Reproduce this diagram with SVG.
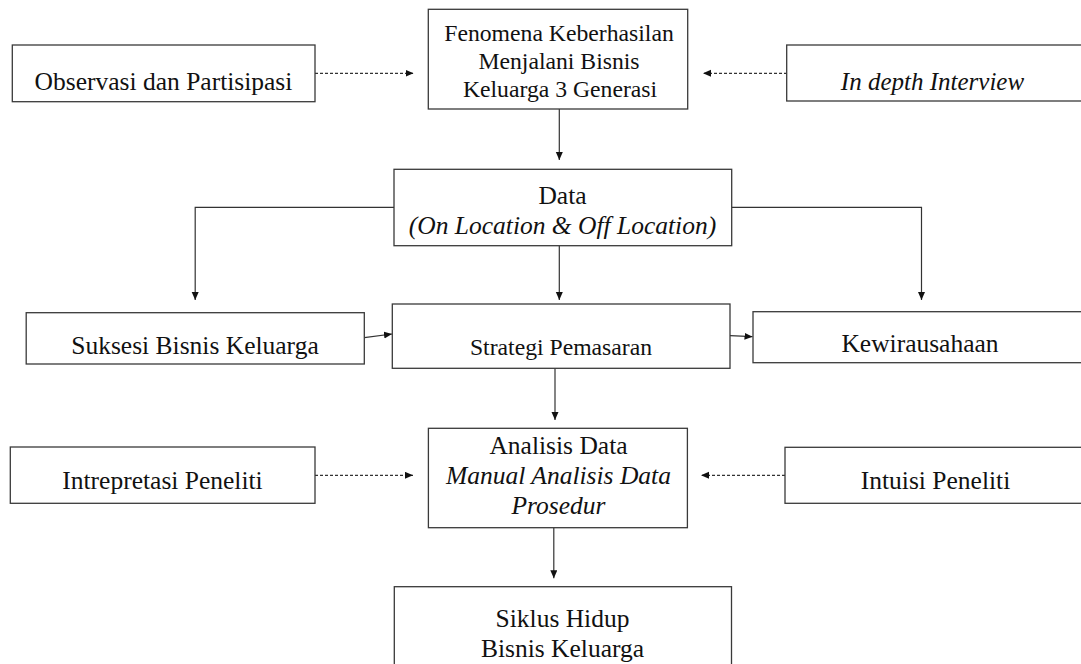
<svg xmlns="http://www.w3.org/2000/svg" width="1081" height="664" viewBox="0 0 1081 664">
<style>
.box{fill:#fff;stroke:#3a3a3a;stroke-width:1.3}
.t{font-family:"Liberation Serif","Times New Roman",serif;font-size:25.5px;fill:#111;text-anchor:middle}
.s{font-size:23.7px}
.i{font-style:italic}
.ln{fill:none;stroke:#333;stroke-width:1.2}
.dash{stroke-dasharray:3 2}
</style>
<defs>
<marker id="ah" markerUnits="userSpaceOnUse" markerWidth="9" markerHeight="8" refX="8" refY="3.5" orient="auto">
<path d="M0,0 L8,3.5 L0,7 z" fill="#111"/>
</marker>
</defs>
<rect width="1081" height="664" fill="#fff"/>
<g id="connectors">
<path class="ln dash" d="M315,73.3 H413.5" marker-end="url(#ah)"/>
<path class="ln dash" d="M787,73.3 H703" marker-end="url(#ah)"/>
<path class="ln" d="M559.3,109 V160" marker-end="url(#ah)"/>
<path class="ln" d="M394,207.3 H195.2 V300" marker-end="url(#ah)"/>
<path class="ln" d="M731.7,207.3 H921.5 V300" marker-end="url(#ah)"/>
<path class="ln" d="M559.3,246 V300" marker-end="url(#ah)"/>
<path class="ln" d="M364.3,337.7 L392,334" marker-end="url(#ah)"/>
<path class="ln" d="M730,335.7 L752.5,336.7" marker-end="url(#ah)"/>
<path class="ln" d="M555,368.3 V420" marker-end="url(#ah)"/>
<path class="ln dash" d="M315,475.3 H413" marker-end="url(#ah)"/>
<path class="ln dash" d="M785,475.3 H701" marker-end="url(#ah)"/>
<path class="ln" d="M553.8,527.7 V578.3" marker-end="url(#ah)"/>
</g>
<g id="observasi">
<rect class="box" x="12.3" y="45" width="302.7" height="56.7"/>
<text class="t" x="163.5" y="90">Observasi dan Partisipasi</text>
</g>
<g id="fenomena">
<rect class="box" x="428.3" y="9.3" width="259.4" height="99.7"/>
<text class="t s" x="559" y="41">Fenomena Keberhasilan</text>
<text class="t s" x="559" y="69">Menjalani Bisnis</text>
<text class="t s" x="560" y="97">Keluarga 3 Generasi</text>
</g>
<g id="indepth">
<rect class="box" x="786.7" y="45" width="300" height="56"/>
<text class="t i" x="932.5" y="90" style="font-size:25px">In depth Interview</text>
</g>
<g id="data">
<rect class="box" x="394" y="169.3" width="337.7" height="76.4"/>
<text class="t" x="562.5" y="203.5">Data</text>
<text class="t i" x="562.5" y="233.5">(On Location &amp; Off Location)</text>
</g>
<g id="suksesi">
<rect class="box" x="26.2" y="312.7" width="338.1" height="51.3"/>
<text class="t" x="195" y="353.5">Suksesi Bisnis Keluarga</text>
</g>
<g id="strategi">
<rect class="box" x="392.3" y="304" width="337.7" height="64.3"/>
<text class="t s" x="561" y="355">Strategi Pemasaran</text>
</g>
<g id="kewirausahaan">
<rect class="box" x="753" y="311.7" width="340" height="51"/>
<text class="t" x="920" y="352">Kewirausahaan</text>
</g>
<g id="intrepretasi">
<rect class="box" x="10.3" y="447" width="304.7" height="56.3"/>
<text class="t" x="162.5" y="488.5">Intrepretasi Peneliti</text>
</g>
<g id="analisis">
<rect class="box" x="428.4" y="428.3" width="259" height="99.4"/>
<text class="t" x="558.5" y="453.5">Analisis Data</text>
<text class="t i" x="558.5" y="483.5">Manual Analisis Data</text>
<text class="t i" x="558.5" y="513.5">Prosedur</text>
</g>
<g id="intuisi">
<rect class="box" x="785" y="447.3" width="300" height="56"/>
<text class="t" x="935.5" y="488.5">Intuisi Peneliti</text>
</g>
<g id="siklus">
<rect class="box" x="394.3" y="586.7" width="337.2" height="100"/>
<text class="t" x="562.5" y="627">Siklus Hidup</text>
<text class="t" x="562.5" y="657">Bisnis Keluarga</text>
</g>
</svg>
